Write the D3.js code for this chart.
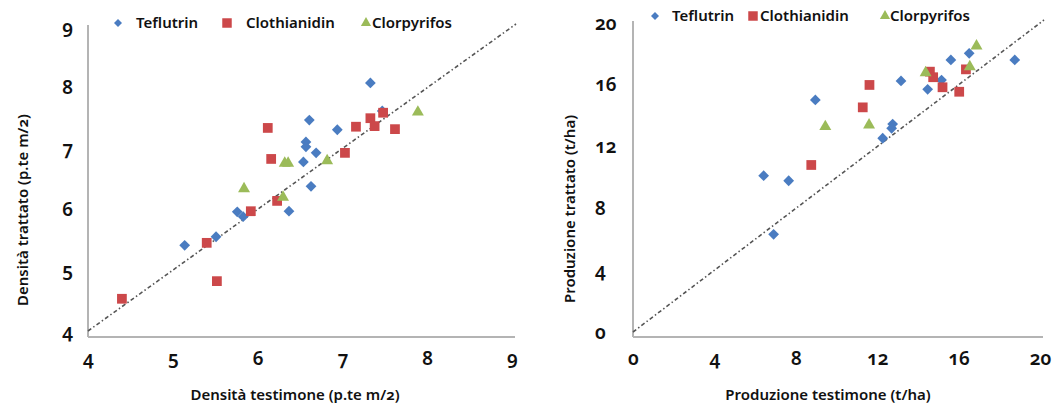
<!DOCTYPE html>
<html>
<head>
<meta charset="utf-8">
<script src="https://cdn.jsdelivr.net/npm/d3@7"></script>
<style>
  body { margin: 0; background: #fff; }
  svg text { font-family: "Noto Sans", "Open Sans", sans-serif; fill: #111; font-variant-numeric: oldstyle-nums; }
</style>
</head>
<body>
<svg id="chart" width="1052" height="410"></svg>
<script>
// series names shared by both panels
var seriesNames = ["Teflutrin", "Clothianidin", "Clorpyrifos"];

// left panel: densità (testimone, trattato)
var densTeflutrin = [[7.33,8.08],[5.14,5.41],[5.51,5.55],[5.76,5.96],[5.83,5.88],[6.37,5.97],[6.61,7.47],
  [6.57,7.11],[6.57,7.03],[6.54,6.78],[6.69,6.93],[6.63,6.38],[6.94,7.31],[7.47,7.62]];
var densClothianidin = [[4.40,4.53],[5.52,4.82],[5.40,5.45],[5.92,5.97],[6.23,6.14],[6.12,7.34],[6.16,6.83],
  [7.03,6.93],[7.16,7.36],[7.33,7.50],[7.38,7.37],[7.48,7.59],[7.62,7.32]];
var densClorpyrifos = [[5.84,6.34],[6.30,6.20],[6.32,6.76],[6.36,6.76],[6.82,6.80],[7.89,7.60]];
var densTicks = [4, 5, 6, 7, 8, 9];

// right panel: produzione (testimone, trattato) t/ha
var prodTeflutrin = [[6.42,10.12],[7.65,9.79],[6.91,6.32],[8.96,15.02],[12.27,12.54],[12.76,13.46],[12.71,13.18],
  [13.17,16.25],[14.48,15.71],[15.16,16.31],[15.62,17.61],[16.52,18.04],[18.76,17.61]];
var prodClothianidin = [[8.76,10.81],[11.29,14.54],[11.62,15.99],[14.59,16.85],[14.75,16.49],[15.21,15.84],
  [16.03,15.55],[16.36,17.0]];
var prodClorpyrifos = [[9.45,13.29],[11.6,13.4],[14.38,16.78],[16.55,17.17],[16.88,18.51]];
var prodTicks = [0, 4, 8, 12, 16, 20];

var colors = ["#4a7cc1", "#cc484a", "#9bbb59"];
var shapes = [d3.symbolSquare, d3.symbolSquare, d3.symbolTriangle];

var svg = d3.select("#chart");

function drawPanel(opt) {
  var x = d3.scaleLinear().domain(opt.domain).range(opt.xRange);
  var y = d3.scaleLinear().domain(opt.domain).range(opt.yRange);
  var g = svg.append("g");

  // axis frame
  var x0 = opt.xRange[0], axisY = opt.axisY;
  g.append("line").attr("x1", x0).attr("x2", x0).attr("y1", opt.yRange[1] - 2).attr("y2", axisY)
    .attr("stroke", "#b4b4b4").attr("stroke-width", 2);
  g.append("line").attr("x1", x0).attr("x2", opt.xRange[1] + 3).attr("y1", axisY).attr("y2", axisY)
    .attr("stroke", "#b4b4b4").attr("stroke-width", 2);

  var xAxis = g.append("g").attr("transform", "translate(0," + axisY + ")")
    .call(d3.axisBottom(x).tickValues(opt.ticks).tickSize(0).tickPadding(15).tickFormat(d3.format("d")));
  xAxis.select(".domain").remove();
  xAxis.selectAll("text").attr("font-size", 19).attr("font-weight", 600);

  var yAxis = g.append("g").attr("transform", "translate(" + x0 + ",0)")
    .call(d3.axisLeft(y).tickValues(opt.ticks).tickSize(0).tickPadding(15).tickFormat(d3.format("d")));
  yAxis.select(".domain").remove();
  yAxis.selectAll("text").attr("font-size", 19).attr("font-weight", 600);
  if (opt.yLabelStart != null) {
    yAxis.selectAll("text").attr("text-anchor", "start").attr("x", opt.yLabelStart - x0);
  }

  // 1:1 line
  g.append("line")
    .attr("x1", x(opt.domain[0])).attr("y1", y(opt.domain[0]))
    .attr("x2", x(opt.domain[1]) + 4).attr("y2", y(opt.domain[1]) - 3)
    .attr("stroke", "#555").attr("stroke-width", 1.6)
    .attr("stroke-dasharray", "4,2.5,1.5,2.5");

  // points
  opt.series.forEach(function(data, i) {
    g.selectAll(null).data(data).enter().append("path")
      .attr("d", d3.symbol().type(shapes[i]).size(i == 0 ? 58 : (i == 1 ? 95 : 62)))
      .attr("transform", function(d) {
        return "translate(" + x(d[0]) + "," + y(d[1]) + ")" + (i == 0 ? " rotate(45)" : "");
      })
      .attr("fill", colors[i]);
  });

  // titles
  g.append("text").attr("x", opt.xTitle[0]).attr("y", opt.xTitle[1]).attr("text-anchor", "middle")
    .attr("font-size", 15).attr("font-weight", 600).text(opt.xLabel);
  g.append("text").attr("transform", "translate(" + opt.yTitle[0] + "," + opt.yTitle[1] + ") rotate(-90)")
    .attr("text-anchor", "middle").attr("font-size", 15).attr("font-weight", 600).text(opt.yLabel);

  // legend
  var lg = g.append("g");
  opt.legend.forEach(function(p, i) {
    lg.append("path")
      .attr("d", d3.symbol().type(shapes[i]).size(i == 0 ? 32 : (i == 1 ? 90 : 45)))
      .attr("transform", "translate(" + p[0] + "," + opt.legendY + ")" + (i == 0 ? " rotate(45)" : ""))
      .attr("fill", colors[i]);
    lg.append("text").attr("x", p[1]).attr("y", opt.legendY + 5)
      .attr("font-size", 15).attr("font-weight", 600).text(seriesNames[i]);
  });
}

drawPanel({
  domain: [4, 9], ticks: densTicks,
  xRange: [88, 512], yRange: [331, 27], axisY: 337,
  series: [densTeflutrin, densClothianidin, densClorpyrifos],
  xLabel: "Densità testimone (p.te m/2)", yLabel: "Densità trattato (p.te m/2)",
  xTitle: [295, 400], yTitle: [28, 210],
  legendY: 23, legend: [[118, 136], [227, 246], [366, 372]]
});

drawPanel({
  domain: [0, 20], ticks: prodTicks,
  xRange: [633, 1040], yRange: [332, 23], axisY: 337, yLabelStart: 595,
  series: [prodTeflutrin, prodClothianidin, prodClorpyrifos],
  xLabel: "Produzione testimone (t/ha)", yLabel: "Produzione trattato (t/ha)",
  xTitle: [828, 400], yTitle: [575, 209],
  legendY: 16, legend: [[655, 672], [753, 760], [885, 890]]
});
</script>
</body>
</html>
